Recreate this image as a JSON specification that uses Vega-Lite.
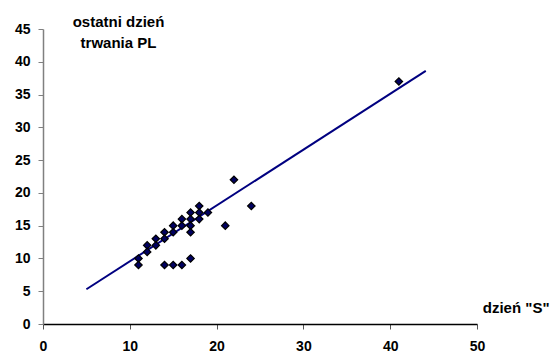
{
  "$schema": "https://vega.github.io/schema/vega-lite/v6.json",
  "width": 434,
  "height": 295,
  "autosize": {"type": "none"},
  "padding": {"left": 43, "top": 29, "right": 73, "bottom": 29},
  "background": "white",
  "config": {
    "view": {"stroke": null},
    "font": "Liberation Sans",
    "axis": {"grid": false, "labelOverlap": false, "labelBound": false, "labelFlush": false, "labelFont": "Liberation Sans", "titleFont": "Liberation Sans", "labelFontWeight": "bold", "labelFontSize": 14, "titleFontWeight": "bold", "titleFontSize": 15, "labelColor": "black", "titleColor": "black"}
  },
  "datasets": {
    "points": [
      {"s": 11, "pl": 10}, {"s": 11, "pl": 9},
      {"s": 12, "pl": 12}, {"s": 12, "pl": 11},
      {"s": 13, "pl": 13}, {"s": 13, "pl": 12},
      {"s": 14, "pl": 14}, {"s": 14, "pl": 13},
      {"s": 15, "pl": 15}, {"s": 15, "pl": 14},
      {"s": 16, "pl": 16}, {"s": 16, "pl": 15},
      {"s": 17, "pl": 17}, {"s": 17, "pl": 16}, {"s": 17, "pl": 15}, {"s": 17, "pl": 14},
      {"s": 18, "pl": 18}, {"s": 18, "pl": 17}, {"s": 18, "pl": 16},
      {"s": 19, "pl": 17},
      {"s": 14, "pl": 9}, {"s": 15, "pl": 9}, {"s": 16, "pl": 9}, {"s": 17, "pl": 10},
      {"s": 21, "pl": 15}, {"s": 22, "pl": 22}, {"s": 24, "pl": 18}, {"s": 41, "pl": 37}
    ],
    "trend": [
      {"s": 5, "pl": 5.3},
      {"s": 44.1, "pl": 38.6}
    ]
  },
  "encoding": {
    "x": {
      "field": "s", "type": "quantitative",
      "scale": {"domain": [0, 50], "nice": false, "zero": true},
      "axis": {
        "values": [0, 10, 20, 30, 40, 50],
        "domainColor": "black", "domainWidth": 1.5,
        "tickColor": "#555555", "tickSize": 5,
        "labelPadding": 10,
        "title": "dzień \"S\"",
        "titleAnchor": "end", "titleAlign": "right", "titleBaseline": "alphabetic",
        "titleX": 506, "titleY": -12
      }
    },
    "y": {
      "field": "pl", "type": "quantitative",
      "scale": {"domain": [0, 45], "nice": false},
      "axis": {
        "values": [0, 5, 10, 15, 20, 25, 30, 35, 40, 45],
        "domainColor": "#808080", "domainWidth": 1.5,
        "tickColor": "#808080", "tickSize": 5,
        "labelPadding": 8,
        "title": ["ostatni dzień", "trwania PL"],
        "titleAngle": 0, "titleAlign": "center", "titleBaseline": "alphabetic",
        "titleLineHeight": 21,
        "titleX": 75, "titleY": -3
      }
    }
  },
  "layer": [
    {
      "data": {"name": "trend"},
      "mark": {"type": "line", "color": "#000080", "strokeWidth": 2}
    },
    {
      "data": {"name": "points"},
      "mark": {"type": "point", "shape": "diamond", "filled": true, "size": 55, "fill": "#000060", "stroke": "black", "strokeWidth": 1.2, "opacity": 1}
    }
  ]
}
